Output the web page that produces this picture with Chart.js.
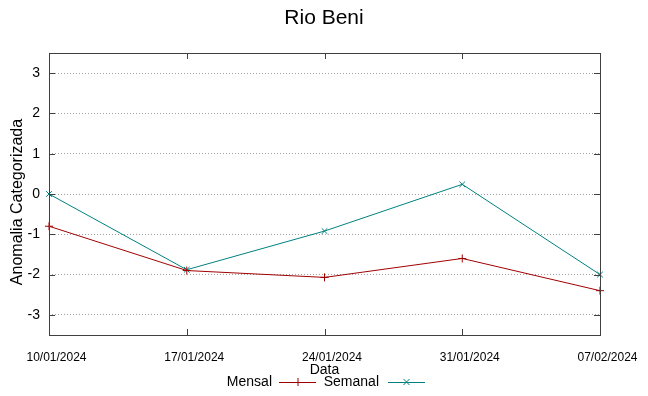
<!DOCTYPE html>
<html><head><meta charset="utf-8">
<script src="https://cdn.jsdelivr.net/npm/chart.js@4"></script>
<style>html,body{margin:0;padding:0;background:#fff}#wrap{width:648px;height:396px}</style>
</head><body><div id="wrap"><canvas id="c" width="648" height="396"></canvas></div>
<script>
const categories = ["10/01/2024","17/01/2024","24/01/2024","31/01/2024","07/02/2024"];
const mensal = [-0.8, -1.9, -2.07, -1.6, -2.4];
const semanal = [0.0, -1.88, -0.92, 0.24, -2.0];
const yTicks = [-3,-2,-1,0,1,2,3];
const FONT = "'Liberation Sans', Arial, sans-serif";

const deco = {
  id:'deco',
  afterDatasetsDraw(chart){
    const ctx = chart.ctx, a = chart.chartArea;
    const xs = chart.scales.x, ys = chart.scales.y;
    ctx.save();
    // frame
    ctx.strokeStyle = '#404040'; ctx.lineWidth = 1;
    ctx.strokeRect(Math.round(a.left)+0.5, Math.round(a.top)+0.5, Math.round(a.right-a.left), Math.round(a.bottom-a.top));
    // ticks
    ctx.beginPath();
    yTicks.forEach(v=>{
      const y = Math.round(ys.getPixelForValue(v))+0.5;
      ctx.moveTo(a.left, y); ctx.lineTo(a.left+6, y);
      ctx.moveTo(a.right, y); ctx.lineTo(a.right-6, y);
    });
    categories.forEach((c,i)=>{
      const x = Math.round(xs.getPixelForValue(i))+0.5;
      ctx.moveTo(x, a.bottom); ctx.lineTo(x, a.bottom-6);
      ctx.moveTo(x, a.top); ctx.lineTo(x, a.top+6);
    });
    ctx.stroke();
    // title
    ctx.fillStyle = '#000';
    ctx.textAlign = 'center'; ctx.textBaseline = 'middle';
    ctx.font = '21px ' + FONT;
    ctx.fillText('Rio Beni', 324, 18);
    // x title
    ctx.font = '14px ' + FONT;
    ctx.fillText('Data', (a.left+a.right)/2, 370);
    // y title
    ctx.save();
    ctx.translate(18, (a.top+a.bottom)/2 + 8);
    ctx.rotate(-Math.PI/2);
    ctx.font = '16px ' + FONT;
    ctx.fillText('Anomalia Categorizada', 0, 0);
    ctx.restore();
    // legend (gnuplot style: text then sample)
    const items = [
      {ds:chart.data.datasets[0], textRight:272, x0:279, x1:316},
      {ds:chart.data.datasets[1], textRight:379, x0:388, x1:425}
    ];
    const ly = 382;
    items.forEach(it=>{
      ctx.textAlign = 'right'; ctx.fillStyle = '#000';
      ctx.font = '14px ' + FONT;
      ctx.fillText(it.ds.label, it.textRight, ly);
      ctx.strokeStyle = it.ds.borderColor; ctx.lineWidth = 1;
      ctx.beginPath(); ctx.moveTo(it.x0, ly+0.5); ctx.lineTo(it.x1, ly+0.5); ctx.stroke();
      const mx = (it.x0+it.x1)/2, r = 4;
      ctx.beginPath();
      if (it.ds.pointStyle === 'cross') {
        ctx.moveTo(mx-r, ly+0.5); ctx.lineTo(mx+r, ly+0.5);
        ctx.moveTo(mx+0.5, ly-r); ctx.lineTo(mx+0.5, ly+r);
      } else {
        const d = r*0.75;
        ctx.moveTo(mx-d, ly-d); ctx.lineTo(mx+d, ly+d);
        ctx.moveTo(mx-d, ly+d); ctx.lineTo(mx+d, ly-d);
      }
      ctx.stroke();
    });
    ctx.restore();
  }
};

new Chart(document.getElementById('c'), {
  type:'line',
  data:{
    labels: categories,
    datasets:[
      {label:'Mensal', data:mensal, borderColor:'#a00000', backgroundColor:'#a00000', borderWidth:1,
       pointStyle:'cross', pointRadius:4, pointBorderWidth:1, fill:false, tension:0},
      {label:'Semanal', data:semanal, borderColor:'#008080', backgroundColor:'#008080', borderWidth:1,
       pointStyle:'crossRot', pointRadius:4, pointBorderWidth:1, fill:false, tension:0}
    ]
  },
  options:{
    responsive:false, animation:false, devicePixelRatio:1,
    layout:{padding:{left:0, right:48, top:53, bottom:0}},
    plugins:{legend:{display:false}, title:{display:false}, tooltip:{enabled:false}},
    scales:{
      x:{
        type:'category', offset:false,
        grid:{display:false, drawTicks:false},
        border:{display:false},
        ticks:{font:{size:12, family:FONT}, color:'#000', padding:15, labelOffset:7.5, maxRotation:0, autoSkip:false},
        afterFit(s){ s.height = 61; }
      },
      y:{
        min:-3.5, max:3.5,
        afterBuildTicks(s){ s.ticks = yTicks.map(v=>({value:v})); },
        grid:{color:'#a0a0a0', lineWidth:1, drawTicks:false, borderDash:[1,2]},
        border:{display:false, dash:[1,2]},
        ticks:{font:{size:14, family:FONT}, color:'#000', padding:9},
        afterFit(s){ s.width = 49; }
      }
    }
  },
  plugins:[deco]
});
</script></body></html>
